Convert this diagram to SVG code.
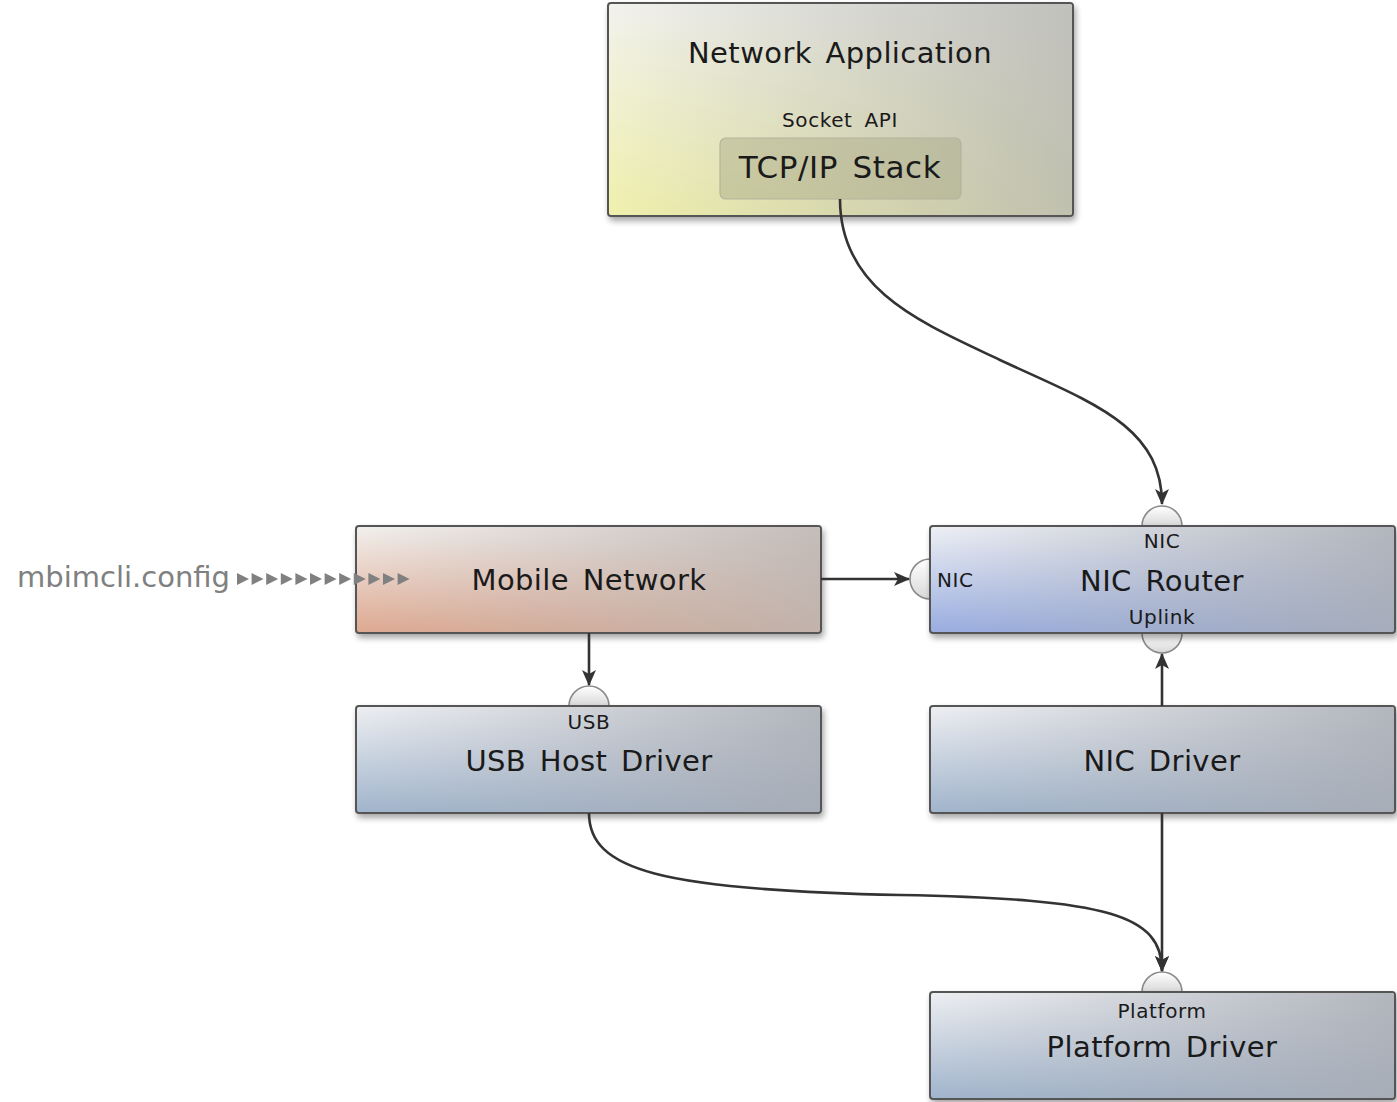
<svg xmlns="http://www.w3.org/2000/svg" width="1397" height="1102" viewBox="0 0 1397 1102">
<style>
text{font-family:"DejaVu Sans","Liberation Sans",sans-serif;fill:#1a1a1a;text-anchor:middle}
.t{font-size:29px;letter-spacing:0.4px;word-spacing:4px}
.s{font-size:20px;letter-spacing:0.6px;word-spacing:5px}
.box{stroke:#555;stroke-width:2}
.ov{stroke:none}
.port{fill:url(#gPort);stroke:#8a8a8a;stroke-width:1.6}
.c{fill:none;stroke:#333;stroke-width:2.6}
</style>
<defs>
<filter id="sh" x="-5%" y="-10%" width="115%" height="130%">
<feGaussianBlur in="SourceAlpha" stdDeviation="3"/>
<feOffset dx="2" dy="4" result="b"/>
<feComponentTransfer><feFuncA type="linear" slope="0.35"/></feComponentTransfer>
<feMerge><feMergeNode/><feMergeNode in="SourceGraphic"/></feMerge>
</filter>
<linearGradient id="gApp" x1="0" y1="0" x2="0" y2="1"><stop offset="0" stop-color="#f2f2ee"/><stop offset="1" stop-color="#f0f0ac"/></linearGradient>
<linearGradient id="gMob" x1="0" y1="0" x2="0" y2="1"><stop offset="0" stop-color="#f2f0ee"/><stop offset="1" stop-color="#dea890"/></linearGradient>
<linearGradient id="gNic" x1="0" y1="0" x2="0" y2="1"><stop offset="0" stop-color="#eef0f4"/><stop offset="1" stop-color="#98ace0"/></linearGradient>
<linearGradient id="gDrv" x1="0" y1="0" x2="0" y2="1"><stop offset="0" stop-color="#eeeff2"/><stop offset="1" stop-color="#a0b4cc"/></linearGradient>
<linearGradient id="gOv" x1="0" y1="0" x2="1" y2="0"><stop offset="0" stop-color="#b4b4b0" stop-opacity="0"/><stop offset="1" stop-color="#b4b4b0" stop-opacity="0.8"/></linearGradient>
<linearGradient id="gOvB" x1="0" y1="0" x2="1" y2="0"><stop offset="0" stop-color="#a8acb4" stop-opacity="0"/><stop offset="1" stop-color="#a8acb4" stop-opacity="0.85"/></linearGradient>
<linearGradient id="gOvM" x1="0" y1="0" x2="1" y2="0"><stop offset="0" stop-color="#bcb4b0" stop-opacity="0"/><stop offset="1" stop-color="#bcb4b0" stop-opacity="0.85"/></linearGradient>
<linearGradient id="gPort" x1="0" y1="0" x2="0" y2="1"><stop offset="0" stop-color="#ffffff"/><stop offset="1" stop-color="#d8d8d8"/></linearGradient>
<marker id="ar" viewBox="0 0 16 14" refX="15" refY="7" markerWidth="16" markerHeight="14" markerUnits="userSpaceOnUse" orient="auto">
<path d="M0,0 L16,7 L0,14 L4,7 Z" fill="#333"/>
</marker>
</defs>
<rect width="1397" height="1102" fill="#fff"/>

<g id="network-application">
<rect class="box" x="608" y="3" width="465" height="213" rx="3" fill="url(#gApp)" filter="url(#sh)"/>
<rect class="ov" x="609" y="4" width="463" height="211" rx="3" fill="url(#gOv)"/>
<text class="t" x="840" y="63">Network Application</text>
<text class="s" x="840" y="127">Socket API</text>
<g id="tcp-ip-stack">
<rect x="720" y="138" width="241" height="61" rx="6" fill="#a8a888" fill-opacity="0.45" stroke="#b4b49c" stroke-width="1.2"/>
<text x="840" y="178" style="font-size:31px;letter-spacing:0.6px;word-spacing:4px">TCP/IP Stack</text>
</g>
</g>

<g id="mobile-network">
<rect class="box" x="356" y="526" width="465" height="107" rx="3" fill="url(#gMob)" filter="url(#sh)"/>
<rect class="ov" x="357" y="527" width="463" height="105" rx="3" fill="url(#gOvM)"/>
<text class="t" x="589" y="590">Mobile Network</text>
</g>

<g id="nic-router">
<path class="port" d="M1142,526 A20,20 0 0 1 1182,526 Z"/>
<path class="port" d="M930,559 A20,20 0 0 0 930,599 Z"/>
<path class="port" d="M1142,633 A20,20 0 0 0 1182,633 Z"/>
<rect class="box" x="930" y="526" width="465" height="107" rx="3" fill="url(#gNic)" filter="url(#sh)"/>
<rect class="ov" x="931" y="527" width="463" height="105" rx="3" fill="url(#gOvB)"/>
<text class="s" x="1162" y="548">NIC</text>
<text class="s" x="937" y="587" style="text-anchor:start">NIC</text>
<text class="t" x="1162" y="591">NIC Router</text>
<text class="s" x="1162" y="624">Uplink</text>
</g>

<g id="usb-host-driver">
<path class="port" d="M569,706 A20,20 0 0 1 609,706 Z"/>
<rect class="box" x="356" y="706" width="465" height="107" rx="3" fill="url(#gDrv)" filter="url(#sh)"/>
<rect class="ov" x="357" y="707" width="463" height="105" rx="3" fill="url(#gOvB)"/>
<text class="s" x="589" y="729">USB</text>
<text class="t" x="589" y="771">USB Host Driver</text>
</g>

<g id="nic-driver">
<rect class="box" x="930" y="706" width="465" height="107" rx="3" fill="url(#gDrv)" filter="url(#sh)"/>
<rect class="ov" x="931" y="707" width="463" height="105" rx="3" fill="url(#gOvB)"/>
<text class="t" x="1162" y="771">NIC Driver</text>
</g>

<g id="platform-driver">
<path class="port" d="M1142,992 A20,20 0 0 1 1182,992 Z"/>
<rect class="box" x="930" y="992" width="465" height="107" rx="3" fill="url(#gDrv)" filter="url(#sh)"/>
<rect class="ov" x="931" y="993" width="463" height="105" rx="3" fill="url(#gOvB)"/>
<text class="s" x="1162" y="1018">Platform</text>
<text class="t" x="1162" y="1057">Platform Driver</text>
</g>

<g id="mbimcli-config">
<text x="17" y="587" style="font-size:29px;fill:#808080;text-anchor:start">mbimcli.config</text>
</g>

<g id="connectors">
<path class="c" marker-end="url(#ar)" d="M840,199 C840,290 920,322 1000,360 C1090,402 1162,425 1162,504"/>
<path class="c" marker-end="url(#ar)" d="M821,579 L909,579"/>
<path class="c" marker-end="url(#ar)" d="M589,633 L589,685"/>
<path class="c" marker-end="url(#ar)" d="M1162,706 L1162,654"/>
<path class="c" marker-end="url(#ar)" d="M1162,813 L1162,971"/>
<path class="c" marker-end="url(#ar)" d="M589,813 C589,870 660,890 900,895 C1110,899 1162,915 1162,971"/>
<g fill="#808080">
<path d="M237,573 l12,6 l-12,6 z"/><path d="M251.6,573 l12,6 l-12,6 z"/><path d="M266.2,573 l12,6 l-12,6 z"/><path d="M280.8,573 l12,6 l-12,6 z"/><path d="M295.4,573 l12,6 l-12,6 z"/><path d="M310,573 l12,6 l-12,6 z"/><path d="M324.6,573 l12,6 l-12,6 z"/><path d="M339.2,573 l12,6 l-12,6 z"/><path d="M353.8,573 l12,6 l-12,6 z"/><path d="M368.4,573 l12,6 l-12,6 z"/><path d="M383,573 l12,6 l-12,6 z"/><path d="M397.6,573 l12,6 l-12,6 z"/>
</g>
</g>
</svg>
